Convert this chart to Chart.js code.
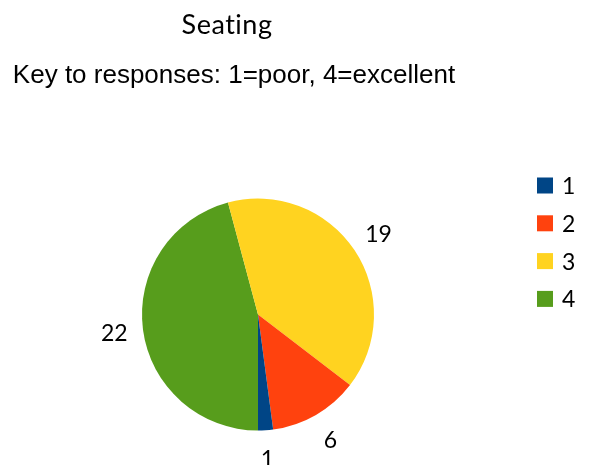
<!DOCTYPE html>
<html>
<head>
<meta charset="utf-8">
<script src="https://cdn.jsdelivr.net/npm/chart.js@4"></script>
<style>
  html, body { margin: 0; padding: 0; background: #ffffff; }
  #wrap { width: 590px; height: 465px; }
</style>
</head>
<body>
<div id="wrap"><canvas id="c" width="590" height="465"></canvas></div>
<script>
// Survey answers for "Seating"
const chartTitle = 'Seating';
const chartSubtitle = 'Key to responses: 1=poor, 4=excellent';
const categories = ['1', '2', '3', '4'];
const responses = [1, 6, 19, 22];
const sliceColors = ['#004586', '#ff420e', '#ffd320', '#579d1c'];

// Slices run counter-clockwise from the bottom in category order,
// so the dataset is fed to Chart.js in reverse and starts at 180°.
const drawOrder = categories.map((_, i) => categories.length - 1 - i);

const labelFont = '23px Lato, "DejaVu Sans", sans-serif';

const decorations = {
  id: 'decorations',
  afterDraw(chart) {
    const ctx = chart.ctx;
    ctx.save();
    ctx.fillStyle = '#000000';
    ctx.textAlign = 'center';
    ctx.textBaseline = 'middle';

    // titles
    ctx.font = '27px Lato, "DejaVu Sans", sans-serif';
    if ('letterSpacing' in ctx) ctx.letterSpacing = '0.5px';
    ctx.fillText(chartTitle, 227, 25);
    if ('letterSpacing' in ctx) ctx.letterSpacing = '0px';
    ctx.font = '26px "Liberation Sans", Arial, sans-serif';
    ctx.fillText(chartSubtitle, 234, 76);

    // value labels outside each slice
    ctx.font = labelFont;
    ctx.textBaseline = 'alphabetic';
    const meta = chart.getDatasetMeta(0);
    meta.data.forEach((arc, i) => {
      const p = arc.getProps(['x', 'y', 'startAngle', 'endAngle', 'outerRadius'], true);
      const mid = (p.startAngle + p.endAngle) / 2;
      const r = p.outerRadius + 29;
      const value = chart.data.datasets[0].data[i];
      ctx.fillText(String(value), p.x + Math.cos(mid) * r, p.y + Math.sin(mid) * r + 8);
    });

    // legend
    ctx.textAlign = 'left';
    ctx.textBaseline = 'middle';
    categories.forEach((cat, i) => {
      const cy = 185.5 + i * 37.8;
      ctx.fillStyle = sliceColors[i];
      ctx.fillRect(537, cy - 8, 16, 16);
      ctx.fillStyle = '#000000';
      ctx.fillText(cat, 562, cy + 1);
    });
    ctx.restore();
  }
};

new Chart(document.getElementById('c'), {
  type: 'pie',
  data: {
    labels: drawOrder.map(i => categories[i]),
    datasets: [{
      data: drawOrder.map(i => responses[i]),
      backgroundColor: drawOrder.map(i => sliceColors[i]),
      borderWidth: 0
    }]
  },
  options: {
    responsive: false,
    animation: false,
    rotation: 180,
    layout: { padding: { left: 142, right: 216, top: 198, bottom: 34 } },
    plugins: {
      legend: { display: false },
      tooltip: { enabled: false }
    }
  },
  plugins: [decorations]
});
</script>
</body>
</html>
